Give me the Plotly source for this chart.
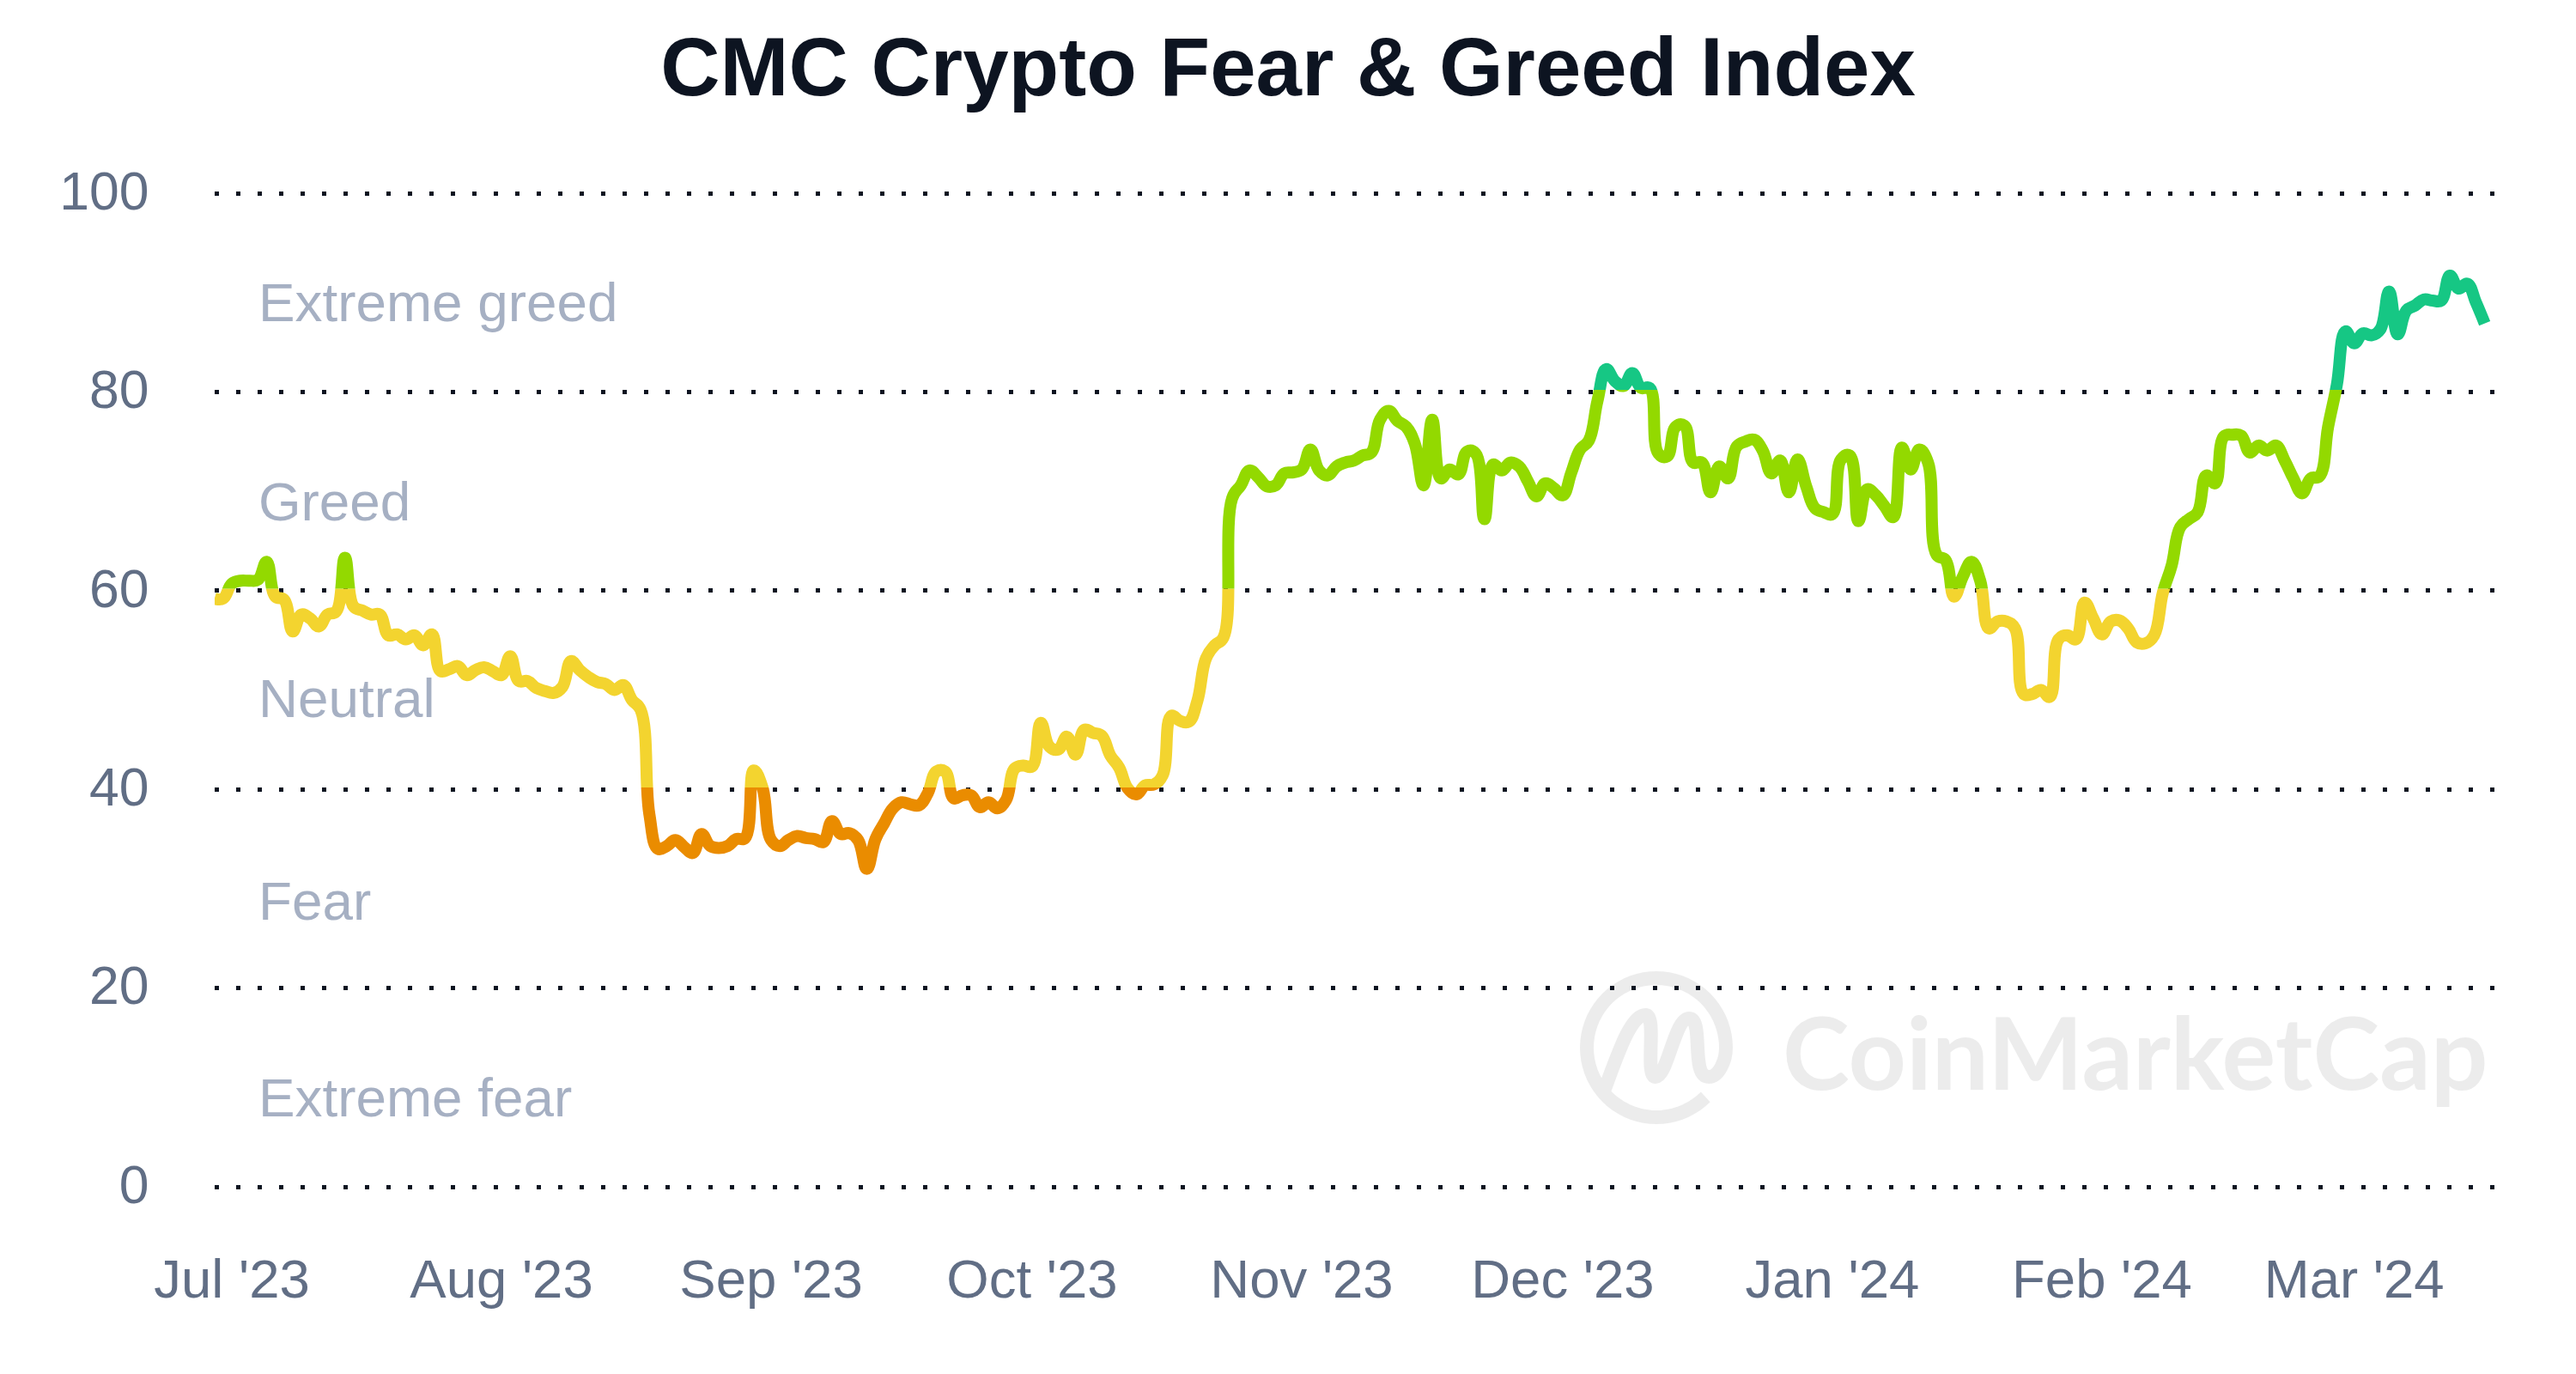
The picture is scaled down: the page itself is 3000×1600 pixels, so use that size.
import math
import pandas as pd
import plotly.graph_objects as go

# ---- data ----
start_date = "2023-06-29"
index_values = [
    59.2, 59.2, 60.7, 61.0, 61.0, 61.1, 62.9, 59.4, 59.1, 55.9, 57.6, 57.2, 56.4, 57.6, 57.9, 63.3,
    58.4, 58.0, 57.6, 57.6, 55.5, 55.6, 55.1, 55.5, 54.5, 55.6, 51.9, 52.1, 52.4, 51.5, 52.0, 52.3,
    51.9, 51.5, 53.4, 50.9, 50.9, 50.2, 49.9, 49.7, 50.3, 52.9, 52.0, 51.3, 50.8, 50.6, 50.0, 50.5,
    49.0, 48.0, 37.5, 34.0, 34.3, 34.9, 34.2, 33.6, 35.5, 34.3, 34.1, 34.3, 35.0, 35.1, 41.9, 40.2,
    34.9, 34.3, 34.9, 35.3, 35.1, 35.0, 34.7, 36.8, 35.5, 35.6, 34.9, 32.0, 35.0, 36.6, 38.1, 38.7,
    38.5, 38.4, 39.6, 41.8, 41.8, 39.1, 39.4, 39.4, 38.2, 38.7, 38.1, 38.9, 42.1, 42.4, 42.3, 46.7,
    44.3, 44.0, 45.3, 43.5, 46.0, 45.7, 45.4, 43.4, 42.2, 40.1, 39.5, 40.4, 40.5, 41.4, 47.4, 46.9,
    46.8, 48.9, 53.2, 54.5, 55.3, 69.3, 70.6, 72.1, 71.4, 70.5, 70.6, 71.8, 71.9, 72.2, 74.2, 72.1,
    71.6, 72.5, 72.9, 73.1, 73.6, 73.9, 77.2, 78.1, 77.1, 76.5, 74.8, 70.6, 77.2, 71.3, 72.2, 71.7,
    74.0, 73.8, 67.2, 72.7, 72.1, 72.9, 72.5, 71.0, 69.5, 70.8, 70.3, 69.6, 71.9, 74.2, 75.1, 79.1,
    82.3, 81.1, 80.6, 81.9, 80.4, 80.4, 73.8, 73.5, 76.5, 76.6, 72.9, 72.9, 69.9, 72.5, 71.3, 74.5,
    75.0, 75.2, 74.1, 71.8, 73.1, 69.9, 73.2, 70.5, 68.3, 67.9, 67.7, 73.2, 73.6, 67.0, 70.2, 69.6,
    68.5, 67.4, 74.4, 72.2, 74.2, 72.9, 63.6, 63.1, 59.4, 61.4, 62.9, 61.0, 56.2, 56.9, 56.9, 56.2,
    49.6, 49.6, 50.0, 49.3, 55.1, 55.5, 55.1, 58.8, 57.2, 55.6, 56.9, 57.0, 56.2, 54.8, 54.7, 55.5,
    59.8, 62.5, 66.4, 67.2, 67.9, 71.6, 70.8, 75.5, 75.7, 75.6, 73.9, 74.6, 74.1, 74.6, 73.1, 71.3,
    69.8, 71.3, 71.5, 76.5, 80.7, 86.1, 84.9, 85.9, 85.7, 86.3, 90.1, 85.8, 88.2, 88.7, 89.3, 89.2,
    89.2, 91.7, 90.4, 90.9, 89.0, 86.9,
]
month_ticks = ["2023-07-01", "2023-08-01", "2023-09-01", "2023-10-01", "2023-11-01",
               "2023-12-01", "2024-01-01", "2024-02-01", "2024-03-01"]
month_labels = ["Jul '23", "Aug '23", "Sep '23", "Oct '23", "Nov '23",
                "Dec '23", "Jan '24", "Feb '24", "Mar '24"]
y_ticks = [0, 20, 40, 60, 80, 100]
zone_names = ["Extreme greed", "Greed", "Neutral", "Fear", "Extreme fear"]
zone_label_y = [89, 69, 49.2, 28.8, 9]
band_edges = [20, 40.2, 60.2, 80.2, 102]
band_colors = ["#EA8C00", "#F3D42F", "#93D900", "#16C784"]

# ---- geometry ----
W, H = 3000, 1600
Y0, PX_PER_UNIT = 1382.0, 11.57
LEFT, RIGHT = 250.0, 2905.0
PX_PER_DAY = 10.13
X_JUL1 = 270.0


def y_px(v):
    return Y0 - PX_PER_UNIT * v


def dom(v):
    return 1 - y_px(v) / H


jul1 = pd.Timestamp("2023-07-01")
x_range = [jul1 + pd.Timedelta(days=(LEFT - X_JUL1) / PX_PER_DAY),
           jul1 + pd.Timedelta(days=(RIGHT - X_JUL1) / PX_PER_DAY)]
dates = pd.date_range(start_date, periods=len(index_values), freq="D")

fig = go.Figure()
for i, color in enumerate(band_colors):
    fig.add_trace(go.Scatter(
        x=dates, y=index_values, mode="lines", xaxis="x", yaxis=f"y{i + 2}",
        line=dict(color=color, width=14, shape="spline", smoothing=1.2, simplify=False),
        hoverinfo="skip", showlegend=False,
    ))

layout = dict(
    width=W, height=H, autosize=False, template="none",
    margin=dict(l=0, r=0, t=0, b=0, autoexpand=False),
    paper_bgcolor="#FFFFFF", plot_bgcolor="rgba(0,0,0,0)",
    font=dict(family="Liberation Sans", color="#616E85"),
    title=dict(text="<b>CMC Crypto Fear &amp; Greed Index</b>", x=1500 / W, xref="container", xanchor="center",
               y=1 - 77 / H, yanchor="middle", yref="container",
               font=dict(family="Liberation Sans", size=96, color="#0D1421")),
    xaxis=dict(type="date", domain=[LEFT / W, RIGHT / W], range=x_range, anchor="y", automargin=False,
               tickmode="array", tickvals=month_ticks, ticktext=month_labels,
               tickfont=dict(size=63.5, color="#616E85"), ticks="outside", ticklen=29,
               tickcolor="rgba(0,0,0,0)", showgrid=False, showline=False, zeroline=False),
    yaxis=dict(domain=[dom(-2), dom(102)], range=[-2, 102], anchor="x", automargin=False,
               tickmode="array", tickvals=y_ticks, tickfont=dict(size=62.5, color="#616E85"),
               ticks="outside", ticklen=63, tickcolor="rgba(0,0,0,0)", ticklabelshift=-3,
               showgrid=True, gridcolor="#0D1421", gridwidth=5, griddash="5px,20px",
               zeroline=False, showline=False),
)
for i in range(len(band_colors)):
    lo, hi = band_edges[i], band_edges[i + 1]
    layout[f"yaxis{i + 2}"] = dict(domain=[dom(lo), dom(hi)], range=[lo, hi], anchor="x", automargin=False,
                                   visible=False, showgrid=False, zeroline=False)
fig.update_layout(**layout)

for name, yv in zip(zone_names, zone_label_y):
    fig.add_annotation(text=name, xref="paper", yref="y", x=299 / W, y=yv, xanchor="left", yanchor="middle",
                       showarrow=False, font=dict(family="Liberation Sans", size=63.8, color="#A6B0C3"))

# ---- watermark ----
WM = "rgba(0,0,0,0.075)"


def pp(x, y):
    return f"{x / W:.5f},{1 - y / H:.5f}"


cx, cy, r = 1929, 1220, 81
arc = []
for deg in range(45, 365, 5):  # lower right, clockwise through bottom, left, top, to the right side
    a = math.radians(deg)
    arc.append((cx + r * math.cos(a), cy + r * math.sin(a)))
logo = ("M" + " L".join(pp(*p) for p in arc)
        + " C" + pp(2010, 1235) + " " + pp(2002, 1254) + " " + pp(1990, 1254)
        + " C" + pp(1968, 1254) + " " + pp(1985, 1186) + " " + pp(1967, 1186)
        + " C" + pp(1950, 1186) + " " + pp(1942, 1254) + " " + pp(1928, 1254)
        + " C" + pp(1915, 1254) + " " + pp(1930, 1184) + " " + pp(1917, 1182)
        + " C" + pp(1900, 1180) + " " + pp(1885, 1225) + " " + pp(1869, 1268))
fig.add_shape(type="path", xref="paper", yref="paper", layer="below", path=logo,
              line=dict(color=WM, width=16))
fig.add_annotation(text="<b>CoinMarketCap</b>", xref="paper", yref="paper", x=2487 / W, y=1 - 1223 / H,
                   xanchor="center", yanchor="middle", showarrow=False,
                   font=dict(family="Lato", size=117.5, color="#ECECEC"))

fig.write_html("out.html", config={"displayModeBar": False},
               post_script="document.body.style.margin='0';document.documentElement.style.overflow='hidden';")
